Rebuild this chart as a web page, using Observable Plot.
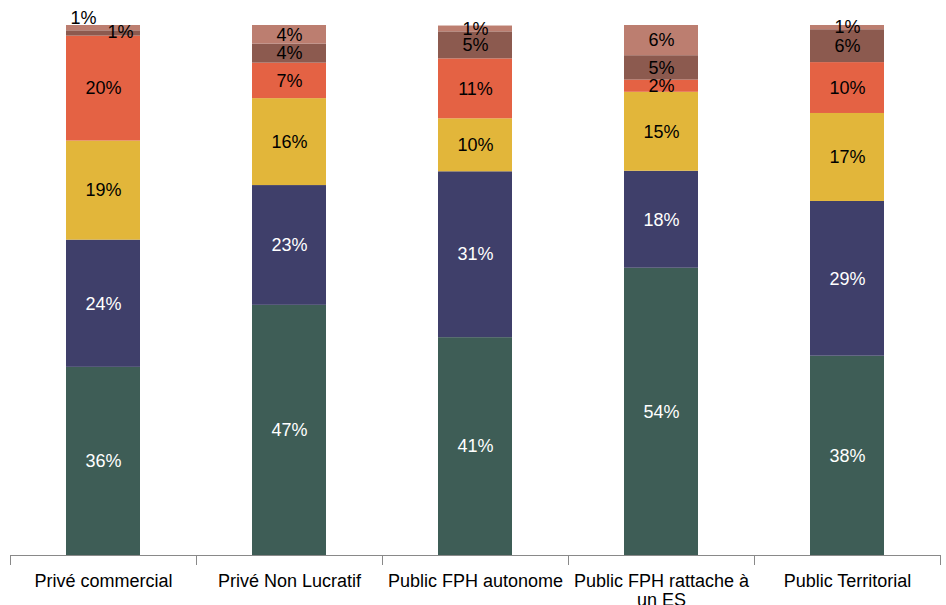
<!DOCTYPE html>
<html><head><meta charset="utf-8">
<script src="https://cdn.jsdelivr.net/npm/d3@7"></script>
<script src="https://cdn.jsdelivr.net/npm/@observablehq/plot@0.6"></script>
<style>body{margin:0;background:#fff}#chart svg{display:block}</style>
</head><body><div id="chart"></div>
<script>
// Categories and tick labels
const categories = ["Privé commercial", "Privé Non Lucratif", "Public FPH autonome", "Public FPH rattache à un ES", "Public Territorial"];
const tickLabels = ["Privé commercial", "Privé Non Lucratif", "Public FPH autonome", "Public FPH rattache à\nun ES", "Public Territorial"];

// Series (bottom to top), values in %
const seriesNames = ["Série 1", "Série 2", "Série 3", "Série 4", "Série 5", "Série 6"];
const serie1 = [35.5, 47.2, 41.1, 54.2, 37.6];
const serie2 = [24.0, 22.6, 31.3, 18.3, 29.2];
const serie3 = [18.7, 16.4, 10.0, 14.9, 16.6];
const serie4 = [19.8, 6.7, 11.3, 2.3, 9.6];
const serie5 = [1.0, 3.6, 5.1, 4.6, 6.2];
const serie6 = [1.0, 3.5, 1.1, 5.7, 0.8];
const seriesColors = ["#3e5d56", "#3f3f6a", "#e2b63a", "#e46244", "#8c5a4f", "#bc7e70"];
const labelColors = ["#ffffff", "#ffffff", "#000000", "#000000", "#000000", "#000000"];

const allValues = [serie1, serie2, serie3, serie4, serie5, serie6];
const rows = [];
seriesNames.forEach((s, i) => categories.forEach((c, j) => rows.push({category: c, series: s, si: i, value: allValues[i][j]})));

const fmt = v => Math.round(v) + "%";
const isShiftedLight = d => d.category === categories[0] && d.si === 5;
const isShiftedDark = d => d.category === categories[0] && d.si === 4;
const font = "Liberation Sans, Arial, Helvetica, sans-serif";

function boundaryTicks(index, scales, values, dimensions) {
  const {width, height, marginLeft, marginRight, marginBottom} = dimensions;
  const n = categories.length;
  const step = (width - marginLeft - marginRight) / n;
  const y0 = scales.y(0);
  const g = d3.create("svg:g").attr("stroke", "#898989").attr("stroke-width", 1);
  for (let i = 0; i <= n; i++) {
    const x = Math.round(marginLeft + i * step) + 0.5;
    g.append("line").attr("x1", x).attr("x2", x).attr("y1", y0).attr("y2", y0 + 10);
  }
  return g.node();
}

const chart = Plot.plot({
  width: 946,
  height: 605,
  marginTop: 25,
  marginBottom: 50,
  marginLeft: 10,
  marginRight: 6,
  style: {fontFamily: font, background: "#fff"},
  x: {domain: categories, paddingInner: 0.6, paddingOuter: 0.3, axis: null},
  y: {domain: [0, 100], axis: null},
  color: {type: "identity"},
  marks: [
    Plot.barY(rows, Plot.stackY({x: "category", y: "value", z: "series", fill: d => seriesColors[d.si]})),
    Plot.text(rows, Plot.stackY({
      x: "category", y: "value", z: "series",
      text: d => (isShiftedLight(d) || isShiftedDark(d)) ? "" : fmt(d.value),
      fill: d => labelColors[d.si], fontSize: 18, fontFamily: font
    })),
    Plot.text(rows, Plot.stackY({
      x: "category", y: "value", z: "series",
      text: d => isShiftedLight(d) ? fmt(d.value) : "",
      fill: "#000", fontSize: 18, fontFamily: font, dx: -20, dy: -10
    })),
    Plot.text(rows, Plot.stackY({
      x: "category", y: "value", z: "series",
      text: d => isShiftedDark(d) ? fmt(d.value) : "",
      fill: "#000", fontSize: 18, fontFamily: font, dx: 17, dy: -1
    })),
    Plot.ruleY([0], {stroke: "#898989"}),
    boundaryTicks,
    Plot.text(categories, {
      x: d => d, y: () => 0, text: (d, i) => tickLabels[i],
      lineAnchor: "top", dy: 17, fontSize: 18, lineHeight: 1.1, fill: "#000", fontFamily: font
    })
  ]
});
document.getElementById("chart").append(chart);
</script>
</body></html>
